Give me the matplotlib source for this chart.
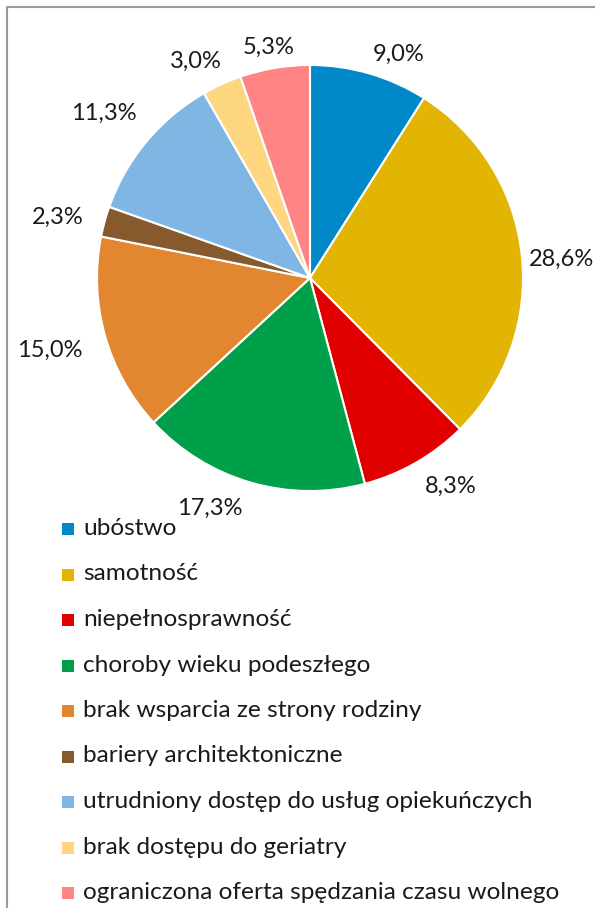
import matplotlib.pyplot as plt
from matplotlib.lines import Line2D
from matplotlib.patches import Rectangle
import numpy as np

plt.rcParams['font.family'] = ['Lato', 'DejaVu Sans']

categories = ["ubóstwo", "samotność", "niepełnosprawność", "choroby wieku podeszłego",
              "brak wsparcia ze strony rodziny", "bariery architektoniczne",
              "utrudniony dostęp do usług opiekuńczych", "brak dostępu do geriatry",
              "ograniczona oferta spędzania czasu wolnego"]
shares = [9.0, 28.6, 8.3, 17.3, 15.0, 2.3, 11.3, 3.0, 5.3]
colors = ["#0088C8", "#E2B404", "#E00000", "#00A04A", "#E28630",
          "#875A2E", "#80B6E4", "#FFD680", "#FF8585"]

# label placement (radius multiple, angular shift in degrees clockwise)
label_r = [1.13, 1.185, 1.18, 1.18, 1.27, 1.22, 1.24, 1.15, 1.10]
label_dang = [5.5, 1.9, -4.2, 7.3, 0.2, -1.8, -1.2, -3.3, -0.6]

W, H = 595, 908
fig = plt.figure(figsize=(W / 100, H / 100), dpi=100)
ax = fig.add_axes([0, 0, 1, 1])

cx, cy, R = 310, H - 278, 213
wedges, _ = ax.pie(shares, colors=colors, startangle=90, counterclock=False,
                   center=(cx, cy), radius=R,
                   wedgeprops=dict(edgecolor='white', linewidth=1.5))

for w, v, d, da in zip(wedges, shares, label_r, label_dang):
    th = np.deg2rad((w.theta1 + w.theta2) / 2 - da)
    ax.text(cx + d * R * np.cos(th), cy + d * R * np.sin(th),
            f"{v:.1f}%".replace('.', ','), ha='center', va='center',
            fontsize=17, color='#1a1a1a')

ax.set_xlim(0, W)
ax.set_ylim(0, H)
ax.set_aspect('equal')
ax.axis('off')

# outer frame (left and top edges visible)
ax.add_line(Line2D([7, 7, W], [0, H - 7, H - 7], color='#9a9a9a', lw=1.5))

# legend, one row per category, evenly spaced
row0, pitch, sq = 529, 45.5, 12
for i, (cat, col) in enumerate(zip(categories, colors)):
    yc = H - (row0 + i * pitch)
    ax.add_patch(Rectangle((62, yc - sq / 2), sq, sq, facecolor=col, edgecolor='none'))
    ax.text(83, yc - 6, cat, ha='left', va='baseline', fontsize=17.6, color='#1a1a1a')

fig.savefig("out.png", dpi=100)
